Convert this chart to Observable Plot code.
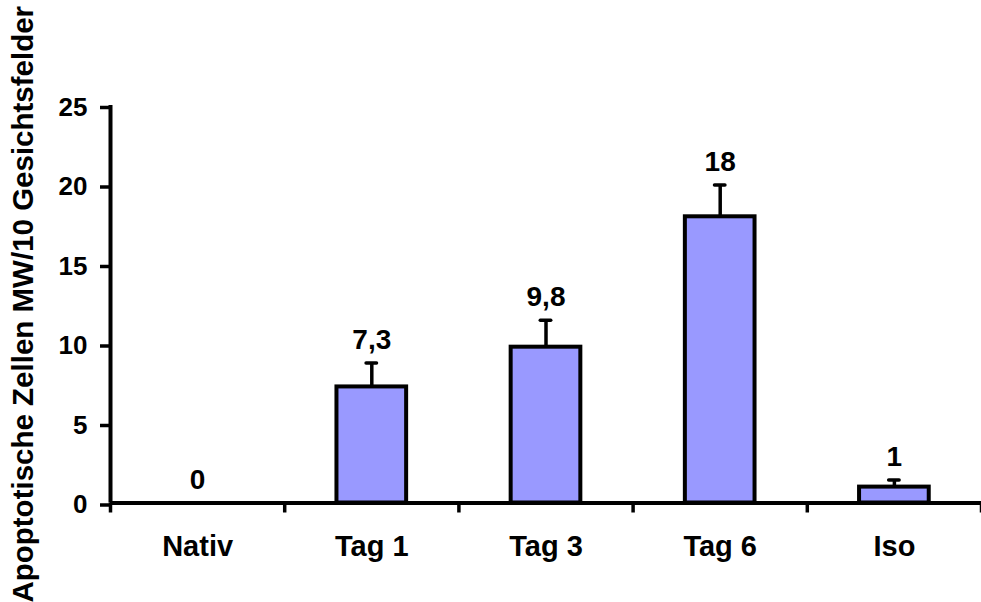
<!DOCTYPE html>
<html>
<head>
<meta charset="utf-8">
<script src="https://cdn.jsdelivr.net/npm/d3@7"></script>
<script src="https://cdn.jsdelivr.net/npm/@observablehq/plot@0.6"></script>
<style>
  html, body { margin: 0; padding: 0; background: #fff; }
</style>
</head>
<body>
<div id="chart"></div>
<script>
const categories = ["Nativ", "Tag 1", "Tag 3", "Tag 6", "Iso"];
const values = [0, 7.3, 9.8, 18, 1];
const errors = [0, 1.5, 1.7, 2.0, 0.45];
const valueLabels = ["0", "7,3", "9,8", "18", "1"];
const yTicks = [0, 5, 10, 15, 20, 25];
const yTitle = "Apoptotische Zellen MW/10 Gesichtsfelder";

const data = categories.map((c, i) => ({
  i, category: c, value: values[i], err: errors[i], top: values[i] + errors[i], label: valueLabels[i]
}));
const withErr = data.filter(d => d.err > 0);

const font = "'Liberation Sans', Arial, Helvetica, sans-serif";

const chart = Plot.plot({
  width: 981,
  height: 602,
  marginLeft: 110,
  marginRight: 0,
  marginTop: 105,
  marginBottom: 99.5,
  style: { fontFamily: font, fontWeight: "bold", color: "black", background: "white" },
  x: { type: "linear", domain: [0, categories.length] },
  y: { domain: [0, 25] },
  marks: [
    Plot.rectY(data, {
      x1: d => d.i + 0.3, x2: d => d.i + 0.7, y: "value",
      fill: "#9999ff", stroke: "black", strokeWidth: 4
    }),
    Plot.ruleX(withErr, { x: d => d.i + 0.5, y1: "value", y2: "top", stroke: "black", strokeWidth: 3.5 }),
    Plot.ruleY(withErr, {
      y: "top", x1: d => d.i + 0.5 - 0.03, x2: d => d.i + 0.5 + 0.03,
      stroke: "black", strokeWidth: 3.5, strokeLinecap: "round"
    }),
    Plot.text(data, {
      x: d => d.i + 0.5, y: "top", text: "label", dy: -14,
      lineAnchor: "bottom", fontSize: 28, fontWeight: "bold", fill: "black"
    }),
    Plot.ruleY([0], { stroke: "black", strokeWidth: 4 }),
    Plot.ruleX([0], { y1: 0, y2: 25, stroke: "black", strokeWidth: 4 }),
    Plot.axisY({
      ticks: yTicks, tickSize: 10, tickPadding: 13, strokeWidth: 3.5,
      fontSize: 26, fontWeight: "bold", label: null, tickFormat: d => String(d), dy: 2
    }),
    Plot.axisX({
      ticks: d3.range(0, categories.length + 1), tickSize: 10, strokeWidth: 3.5,
      tickFormat: () => "", label: null
    }),
    Plot.axisX({
      ticks: categories.map((c, i) => i + 0.5), tickSize: 0, tickPadding: 32,
      tickFormat: d => categories[Math.floor(d)], fontSize: 29, fontWeight: "bold", label: null
    }),
    Plot.text([yTitle], {
      frameAnchor: "left", textAnchor: "middle", rotate: -90, dx: -87,
      fontSize: 29.5, fontWeight: "bold", fill: "black"
    })
  ]
});
document.getElementById("chart").appendChild(chart);
</script>
</body>
</html>
